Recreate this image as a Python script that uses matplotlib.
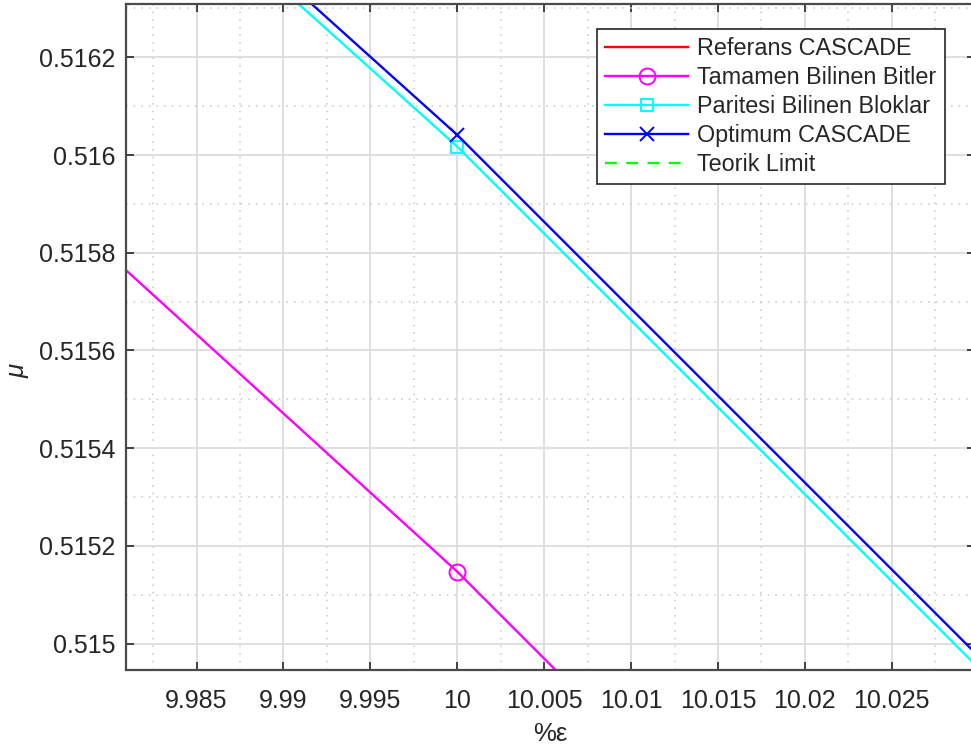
import matplotlib
matplotlib.use("Agg")
import matplotlib.pyplot as plt
from matplotlib.ticker import FixedLocator, MultipleLocator

plt.rcParams['font.family'] = ['Liberation Sans', 'DejaVu Sans']

# error rate (%) and efficiency values per reconciliation scheme
eps = [9.9, 10.0, 10.1]
referans = [0.52320, 0.51990, 0.51634]
tamamen = [0.518385, 0.515147, 0.511589]
paritesi = [0.519217, 0.516017, 0.512459]
optimum = [0.519241, 0.516041, 0.512483]
teorik = [0.51060, 0.50760, 0.50460]

series_labels = ["Referans CASCADE", "Tamamen Bilinen Bitler",
                 "Paritesi Bilinen Bloklar", "Optimum CASCADE", "Teorik Limit"]

xticks = [9.985, 9.99, 9.995, 10, 10.005, 10.01, 10.015, 10.02, 10.025]
xtick_labels = ["9.985", "9.99", "9.995", "10", "10.005", "10.01", "10.015", "10.02", "10.025"]
yticks = [0.515, 0.5152, 0.5154, 0.5156, 0.5158, 0.516, 0.5162]
ytick_labels = ["0.515", "0.5152", "0.5154", "0.5156", "0.5158", "0.516", "0.5162"]

W, H = 971, 749
fig = plt.figure(figsize=(W / 100, H / 100), dpi=100)
left_px, right_px, top_px, bottom_px = 125.5, 975, 4, 670
ax = fig.add_axes([left_px / W, 1 - bottom_px / H,
                   (right_px - left_px) / W, (bottom_px - top_px) / H])

lw = 1.7
ax.plot(eps, referans, color="#ff0000", lw=lw, label=series_labels[0])
ax.plot(eps, tamamen, color="#ff00ff", lw=lw, marker="o", ms=11.5,
        mfc="none", mew=1.4, label=series_labels[1])
ax.plot(eps, paritesi, color="#00ffff", lw=lw, marker="s", ms=8.5,
        mfc="none", mew=1.4, label=series_labels[2])
ax.plot(eps, optimum, color="#0000ff", lw=lw, marker="x", ms=10,
        mew=1.4, label=series_labels[3])
ax.plot(eps, teorik, color="#00ff00", lw=lw, ls=(0, (5, 4)), label=series_labels[4])

ax.set_xlim(9.98091, 10.02979)
ax.set_ylim(0.5149458, 0.5163091)

ax.xaxis.set_major_locator(FixedLocator(xticks))
ax.set_xticklabels(xtick_labels)
ax.yaxis.set_major_locator(FixedLocator(yticks))
ax.set_yticklabels(ytick_labels)
ax.xaxis.set_minor_locator(MultipleLocator(0.0025))
ax.yaxis.set_minor_locator(MultipleLocator(0.0001))

dark = "#262626"
ax.grid(True, which="major", color="#dcdcdc", lw=1.3, ls="-")
ax.grid(True, which="minor", color="#c8c8c8", lw=1.1, ls=(0, (1, 4)))
ax.set_axisbelow(True)
ax.tick_params(which="major", direction="in", length=6, width=1.2,
               colors=dark, labelsize=18, top=True, right=True, pad=7)
ax.tick_params(axis="x", which="major", pad=14)
ax.tick_params(which="minor", length=0)
for side in ["left", "bottom", "top", "right"]:
    ax.spines[side].set_color("#4a4a4a")
    ax.spines[side].set_linewidth(1.6)

ax.set_xlabel("%ε", fontsize=18.5, color=dark, labelpad=6)
ax.set_ylabel("μ", fontsize=18.5, color=dark, style="italic")
ax.yaxis.set_label_coords(30 / W, 0.505, transform=fig.transFigure)

leg = ax.legend(loc="upper left", bbox_to_anchor=(597 / W, 1 - 29 / H),
                bbox_transform=fig.transFigure, fontsize=16.8, frameon=True,
                fancybox=False, edgecolor=dark, framealpha=1,
                handlelength=3.55, handletextpad=0.38, labelspacing=0.25,
                borderpad=0.36, borderaxespad=0)
leg.get_frame().set_linewidth(1.2)
for t in leg.get_texts():
    t.set_color(dark)

fig.savefig("out.png", dpi=100)
